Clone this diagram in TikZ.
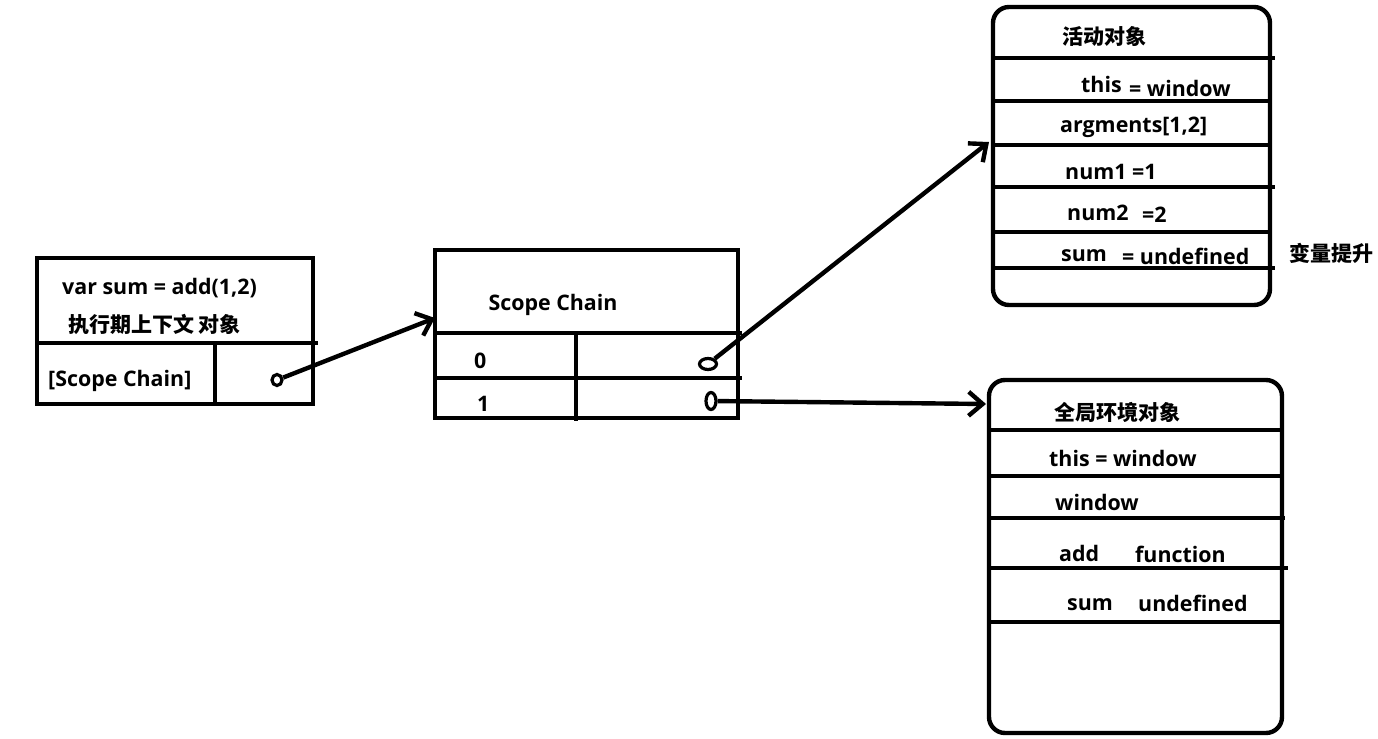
\documentclass[tikz,border=0pt]{standalone}
\usepackage{fontspec}
\setmainfont{Open Sans}
\newfontfamily\cjk{Noto Sans CJK SC}
\usetikzlibrary{arrows.meta}
\usetikzlibrary{shapes.geometric}

\begin{document}
\begin{tikzpicture}[x=0.5pt,y=-0.5pt,>={Straight Barb[length=7pt,width=12pt]},line width=2.2pt,
                    box/.style={draw,line width=2.2pt},
                    obj box/.style={box,rounded corners=8pt},
                    lbl/.style={anchor=west,inner sep=0pt,font=\bfseries\fontsize{10.7}{13}\selectfont},
                    zh/.style={anchor=west,inner sep=0pt,font=\cjk\bfseries\fontsize{10.5}{12}\selectfont},
                    ptr/.style={draw,ellipse,line width=1.6pt,inner sep=0pt}]
    \useasboundingbox (0,0) rectangle (1378,739);
    % execution context
    \draw[box] (37,258) rectangle (313,404);
    \draw[box] (37,343) -- (318,343) (215,343) -- (215,404);
    \node[lbl] (var) at (60,288) {var sum = add(1,2)};
    \node[zh] (ctx) at (66,324) {执行期上下文 对象};
    \node[lbl] (sc) at (46,381) {[Scope Chain]};
    \node[ptr,minimum width=5pt,minimum height=5.5pt] (p) at (277,380) {};
    % scope chain
    \draw[box] (435,250) rectangle (738,418);
    \draw[box] (435,333) -- (742,333) (435,378) -- (742,378) (576,333) -- (576,421);
    \node[lbl,anchor=center] (chain) at (553,305) {Scope Chain};
    \node[lbl] (zero) at (472,361) {0};
    \node[lbl] (one) at (475,404) {1};
    \node[ptr,minimum width=8.5pt,minimum height=5.5pt] (p0) at (708,364) {};
    \node[ptr,minimum width=5pt,minimum height=8.5pt] (p1) at (711,401) {};
    % activation object
    \draw[obj box] (993,7) rectangle (1270,305);
    \draw[box] (993,58) -- (1275,58) (993,101) -- (1270,101) (993,145) -- (1270,145)
        (993,187) -- (1275,187) (993,232) -- (1270,232) (993,268) -- (1275,268);
    \node[zh] (ao) at (1060,36) {活动对象};
    \node[lbl] (this) at (1079,84) {this};
    \node[lbl] (thisv) at (1127,88) {= window};
    \node[lbl] (args) at (1058,127) {argments[1,2]};
    \node[lbl] (num1) at (1063,172) {num1 =1};
    \node[lbl] (num2) at (1065,213) {num2};
    \node[lbl] (num2v) at (1140,215) {=2};
    \node[lbl] (sum) at (1059,256) {sum};
    \node[lbl] (sumv) at (1120,256) {= undefined};
    \node[zh] (hoist) at (1287,253) {变量提升};
    \coordinate (ao in) at (989,142);
    % global object
    \draw[obj box] (989,380) rectangle (1282,733);
    \draw[box] (989,430) -- (1282,430) (989,476) -- (1282,476) (989,518) -- (1285,518)
        (989,568) -- (1288,568) (989,622) -- (1282,622);
    \node[zh] (go) at (1052,412) {全局环境对象};
    \node[lbl] (gthis) at (1047,458) {this = window};
    \node[lbl] (gwin) at (1053,502) {window};
    \node[lbl] (add) at (1057,553) {add};
    \node[lbl] (addv) at (1133,554) {function};
    \node[lbl] (gsum) at (1065,605) {sum};
    \node[lbl] (gsumv) at (1136,603) {undefined};
    \coordinate (go in) at (986,404);
    % pointers
    \path[->,line width=2.2pt]
        (p) edge (435,318)
        (p0) edge (ao in)
        (p1) edge (go in);
\end{tikzpicture}
\end{document}
